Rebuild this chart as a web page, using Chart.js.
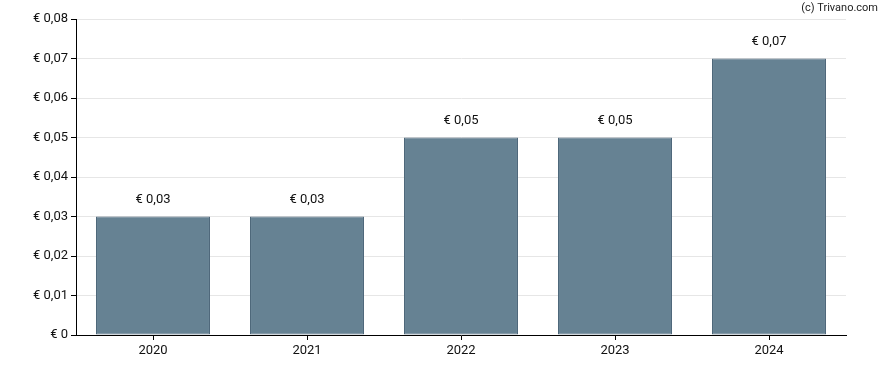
<!DOCTYPE html>
<html><head><meta charset="utf-8">
<script src="https://cdn.jsdelivr.net/npm/chart.js@4/dist/chart.umd.min.js"></script>
<style>html,body{margin:0;padding:0;background:#fff}#wrap{width:888px;height:370px}</style>
</head><body><div id="wrap"><canvas id="c" width="888" height="370"></canvas></div>
<script>
const categories = ['2020','2021','2022','2023','2024'];
const dividends = [0.03, 0.03, 0.05, 0.05, 0.07];
const yTicks = [0,0.01,0.02,0.03,0.04,0.05,0.06,0.07,0.08];
const fmt = v => v === 0 ? '€ 0' : '€ ' + v.toFixed(2).replace('.', ',');
const FONT = 'Roboto, "Liberation Sans", sans-serif';

const labelPlugin = {
  id: 'labels',
  afterDatasetsDraw(chart) {
    const ctx = chart.ctx;
    const meta = chart.getDatasetMeta(0);
    ctx.save();
    ctx.font = '13px ' + FONT;
    ctx.fillStyle = '#111';
    ctx.textAlign = 'center';
    ctx.textBaseline = 'middle';
    meta.data.forEach((bar, i) => {
      ctx.fillText(fmt(dividends[i]), bar.x, bar.y - 17);
    });
    ctx.font = '11px ' + FONT;
    ctx.textAlign = 'right';
    ctx.fillStyle = '#222';
    ctx.fillText('(c) Trivano.com', 878, 8);
    ctx.restore();
  }
};

new Chart(document.getElementById('c'), {
  type: 'bar',
  data: {
    labels: categories,
    datasets: [{
      data: dividends,
      backgroundColor: '#668293',
      borderColor: '#4b6578',
      borderWidth: 1,
      borderSkipped: false,
      barPercentage: 0.74,
      categoryPercentage: 1.0
    }]
  },
  options: {
    responsive: false,
    animation: false,
    devicePixelRatio: 1,
    layout: { padding: { top: 19, right: 42, left: 0, bottom: 0 } },
    plugins: { legend: { display: false }, tooltip: { enabled: false } },
    scales: {
      x: {
        afterFit: s => { s.height = 35; },
        border: { color: '#000', width: 1 },
        grid: { offset: false, drawOnChartArea: false, tickColor: '#000', tickLength: 5 },
        ticks: { color: '#111', font: { family: FONT, size: 13 }, padding: 3 }
      },
      y: {
        min: 0, max: 0.08,
        afterFit: s => { s.width = 76; },
        afterBuildTicks: s => { s.ticks = yTicks.map(v => ({ value: v })); },
        border: { color: '#000', width: 1 },
        grid: { color: '#e6e6e6', tickColor: '#000', tickLength: 5 },
        ticks: { color: '#111', font: { family: FONT, size: 13 }, padding: 3, callback: v => fmt(v) }
      }
    }
  },
  plugins: [labelPlugin]
});
</script></body></html>
